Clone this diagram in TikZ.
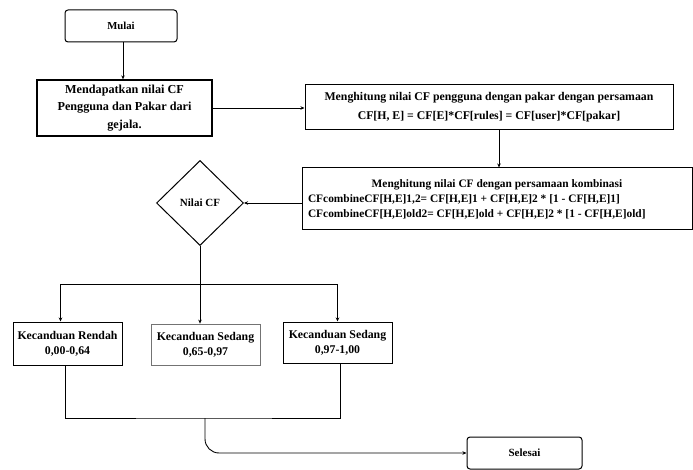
\documentclass[tikz,border=0pt]{standalone}
\usepackage{fontspec}
\setmainfont{Liberation Serif}[BoldFont={Liberation Serif Bold}]
\usetikzlibrary{shapes.geometric,arrows.meta}
\begin{document}
\begin{tikzpicture}[x=1pt,y=-1pt,
  every node/.style={font=\bfseries\fontsize{11.8}{15}\selectfont},
  box/.style={draw,line width=1pt,inner sep=0pt,align=center},
  term/.style={box,rounded corners=3pt},
  conn/.style={line width=0.9pt},
  arr/.style={conn,-{Stealth[length=4pt,width=3.5pt]}}]
\useasboundingbox (0,0) rectangle (693,470);
\node[term,minimum width=112pt,minimum height=32pt,font=\bfseries\fontsize{10.7}{13}\selectfont] (mulai) at (121,26) {Mulai};
\node[box,minimum width=175pt,minimum height=56pt,line width=1.3pt,
  font=\bfseries\fontsize{12.2}{17.5}\selectfont] (ambil) at (124.5,108)
  {Mendapatkan nilai CF\\Pengguna dan Pakar dari\\gejala.};
\node[box,minimum width=368pt,minimum height=45pt,
  font=\bfseries\fontsize{11.8}{19}\selectfont] (hitung) at (489,107.5)
  {Menghitung nilai CF pengguna dengan pakar dengan persamaan\\
   CF[H, E] = CF[E]*CF[rules] = CF[user]*CF[pakar]};
\node[box,minimum width=390pt,minimum height=62pt,align=left,
  font=\bfseries\fontsize{11.4}{15}\selectfont] (komb) at (497,199)
  {\makebox[378pt][c]{Menghitung nilai CF dengan persamaan kombinasi}\\
   CFcombineCF[H,E]1,2= CF[H,E]1 + CF[H,E]2 * [1 - CF[H,E]1]\\
   CFcombineCF[H,E]old2= CF[H,E]old + CF[H,E]2 * [1 - CF[H,E]old]};
\node[diamond,draw,line width=1pt,minimum width=87pt,minimum height=85pt,inner sep=0pt,font=\bfseries\fontsize{11}{13}\selectfont] (nilai) at (200,203) {Nilai CF};
\node[box,minimum width=109pt,minimum height=43pt] (rendah) at (67.5,343.5) {Kecanduan Rendah\\0,00-0,64};
\node[box,minimum width=109pt,minimum height=41pt,draw=black!55,line width=0.8pt] (sedang) at (205.5,344.5) {Kecanduan Sedang\\0,65-0,97};
\node[box,minimum width=109pt,minimum height=41pt] (tinggi) at (337.5,342.5) {Kecanduan Sedang\\0,97-1,00};
\node[term,minimum width=115pt,minimum height=32pt,font=\bfseries\fontsize{11}{13}\selectfont] (selesai) at (524.5,453) {Selesai};
\coordinate (cab) at (200,284);
\coordinate (gab) at (205,418);
\draw[arr] ([xshift=2pt]mulai.south) -- ([xshift=2pt]mulai.south |- ambil.north);
\draw[arr] (ambil.east) -- (ambil.east -| hitung.west);
\draw[arr] ([xshift=10pt]hitung.south) -- ([xshift=10pt]hitung.south |- komb.north);
\draw[arr] (komb.west |- nilai.east) -- (nilai.east);
\draw[conn] (nilai.south) -- (cab);
\draw[arr] (cab) -| ([xshift=-7pt]rendah.north);
\draw[arr] (cab) -- (sedang.north -| cab);
\draw[arr] (cab) -| (tinggi.north);
\draw[conn] ([xshift=-2.5pt]rendah.south) |- (gab) -| ([xshift=2.5pt]tinggi.south);
\draw[arr,rounded corners=14pt] (gab) |- (selesai.west);
\end{tikzpicture}
\end{document}
